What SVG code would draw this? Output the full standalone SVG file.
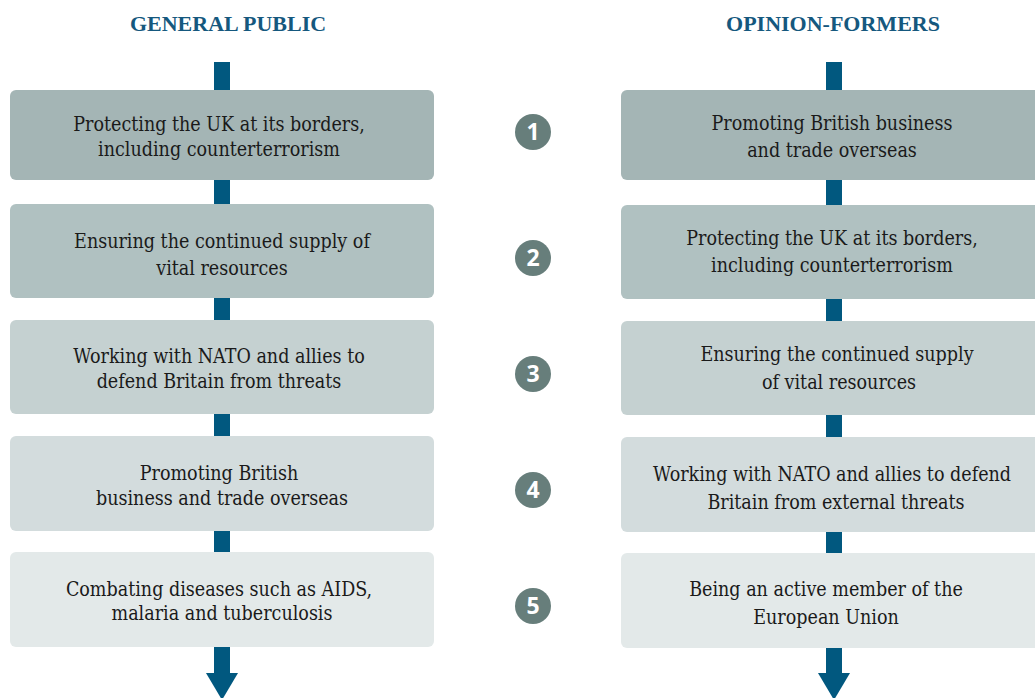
<svg xmlns="http://www.w3.org/2000/svg" width="1035" height="698" viewBox="0 0 1035 698">
  <style>
    .head { font-family: "Liberation Serif", serif; font-weight: bold; font-size: 22px; fill: #15587e; text-anchor: middle; }
    .lbl { font-family: "DejaVu Serif Condensed", "DejaVu Serif", serif; font-stretch: condensed; font-size: 19.5px; fill: #1a1a1a; text-anchor: middle; }
    .num { font-family: "Open Sans", "DejaVu Sans", sans-serif; font-weight: bold; font-size: 23px; fill: #ffffff; text-anchor: middle; }
    .bar { fill: #01587f; }
    .badge { fill: #677e7b; }
    .r1 { fill: #a4b5b5; }
    .r2 { fill: #b0c1c1; }
    .r3 { fill: #c5d1d1; }
    .r4 { fill: #d3dcdd; }
    .r5 { fill: #e3e9e9; }
  </style>

  <!-- column headings -->
  <text class="head" x="228" y="31">GENERAL PUBLIC</text>
  <text class="head" x="833" y="31">OPINION-FORMERS</text>

  <!-- vertical flow connectors with downward arrows -->
  <g id="connectors">
    <rect class="bar" x="214" y="62" width="16" height="612"/>
    <polygon class="bar" points="206,673 238,673 222,700"/>
    <rect class="bar" x="826" y="62" width="16" height="612"/>
    <polygon class="bar" points="818,673 850,673 834,700"/>
  </g>

  <!-- general public ranking -->
  <g id="gp1">
    <rect class="r1" x="10" y="90" width="424" height="90" rx="6"/>
    <text class="lbl" x="219" y="131">Protecting the UK at its borders,</text>
    <text class="lbl" x="219" y="156">including counterterrorism</text>
  </g>
  <g id="gp2">
    <rect class="r2" x="10" y="204" width="424" height="94" rx="6"/>
    <text class="lbl" x="222" y="248">Ensuring the continued supply of</text>
    <text class="lbl" x="222" y="275">vital resources</text>
  </g>
  <g id="gp3">
    <rect class="r3" x="10" y="320" width="424" height="94" rx="6"/>
    <text class="lbl" x="219" y="363">Working with NATO and allies to</text>
    <text class="lbl" x="219" y="388">defend Britain from threats</text>
  </g>
  <g id="gp4">
    <rect class="r4" x="10" y="436" width="424" height="95" rx="6"/>
    <text class="lbl" x="219" y="480">Promoting British</text>
    <text class="lbl" x="222" y="505">business and trade overseas</text>
  </g>
  <g id="gp5">
    <rect class="r5" x="10" y="552" width="424" height="95" rx="6"/>
    <text class="lbl" x="219" y="596">Combating diseases such as AIDS,</text>
    <text class="lbl" x="222" y="620">malaria and tuberculosis</text>
  </g>

  <!-- rank badges -->
  <g id="rank1"><circle class="badge" cx="533" cy="132" r="18"/><text class="num" x="533" y="140">1</text></g>
  <g id="rank2"><circle class="badge" cx="533" cy="258" r="18"/><text class="num" x="533" y="266">2</text></g>
  <g id="rank3"><circle class="badge" cx="533" cy="374" r="18"/><text class="num" x="533" y="382">3</text></g>
  <g id="rank4"><circle class="badge" cx="533" cy="490" r="18"/><text class="num" x="533" y="498">4</text></g>
  <g id="rank5"><circle class="badge" cx="533" cy="606" r="18"/><text class="num" x="533" y="614">5</text></g>

  <!-- opinion-former ranking -->
  <g id="of1">
    <rect class="r1" x="621" y="90" width="426" height="90" rx="6"/>
    <text class="lbl" x="832" y="130">Promoting British business</text>
    <text class="lbl" x="832" y="157">and trade overseas</text>
  </g>
  <g id="of2">
    <rect class="r2" x="621" y="205" width="426" height="94" rx="6"/>
    <text class="lbl" x="832" y="245">Protecting the UK at its borders,</text>
    <text class="lbl" x="832" y="272">including counterterrorism</text>
  </g>
  <g id="of3">
    <rect class="r3" x="621" y="321" width="426" height="94" rx="6"/>
    <text class="lbl" x="837" y="361">Ensuring the continued supply</text>
    <text class="lbl" x="839" y="389">of vital resources</text>
  </g>
  <g id="of4">
    <rect class="r4" x="621" y="437" width="426" height="95" rx="6"/>
    <text class="lbl" x="832" y="481">Working with NATO and allies to defend</text>
    <text class="lbl" x="836" y="509">Britain from external threats</text>
  </g>
  <g id="of5">
    <rect class="r5" x="621" y="553" width="426" height="95" rx="6"/>
    <text class="lbl" x="826" y="596">Being an active member of the</text>
    <text class="lbl" x="826" y="624">European Union</text>
  </g>
</svg>
